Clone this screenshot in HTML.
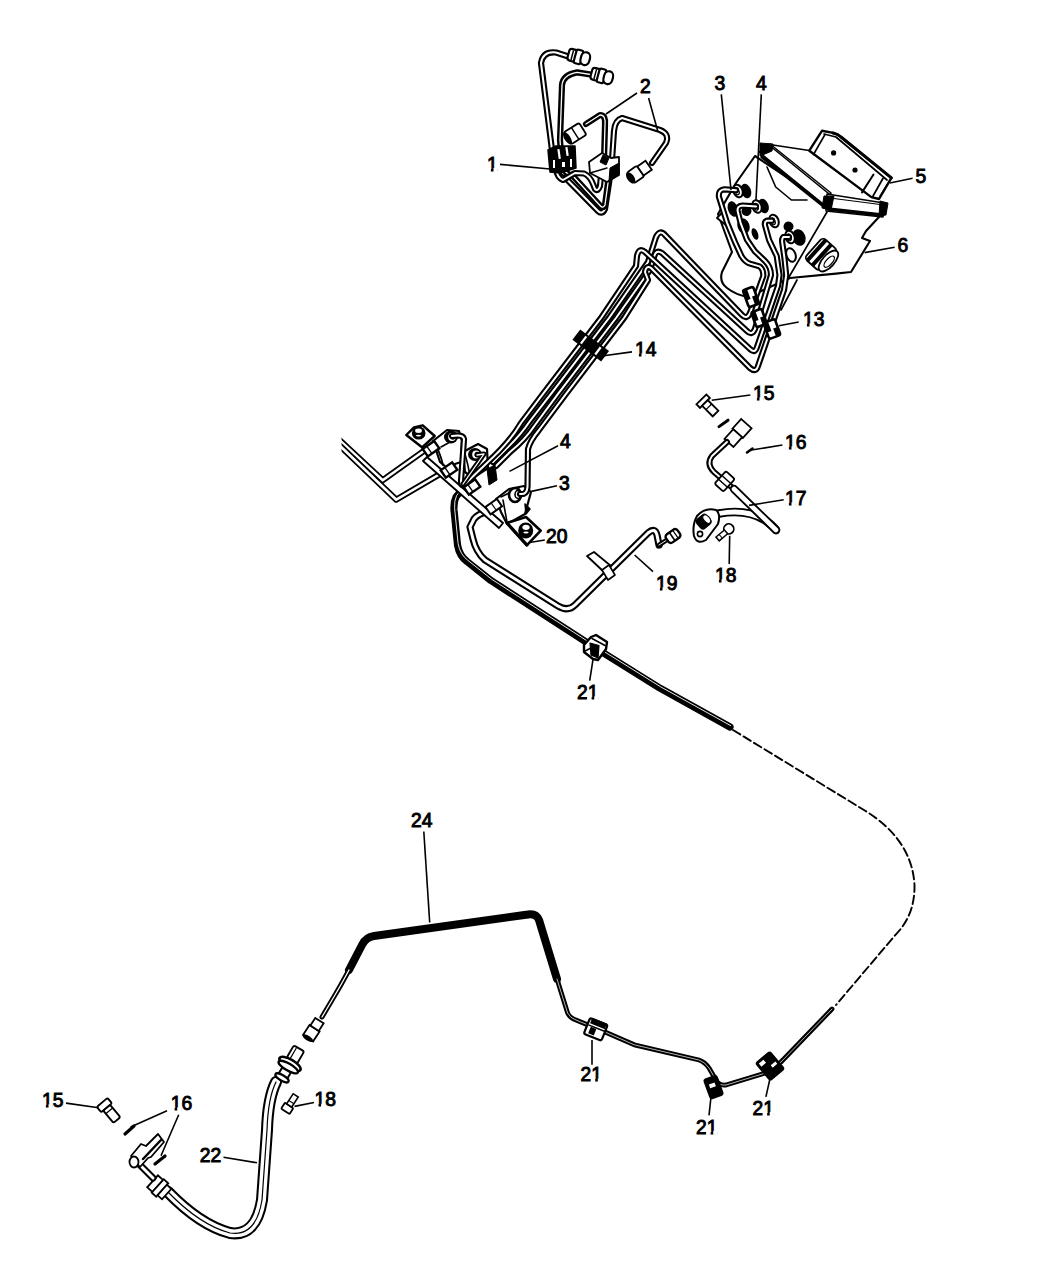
<!DOCTYPE html>
<html><head><meta charset="utf-8"><style>
html,body{margin:0;padding:0;background:#fff;}
svg{display:block;}
text{font-family:"Liberation Sans",sans-serif;font-size:19.3px;fill:#000;stroke:#000;stroke-width:0.95px;}
</style></head><body>
<svg width="1050" height="1275" viewBox="0 0 1050 1275">
<rect width="1050" height="1275" fill="#fff"/>
<path d="M468,488.5 Q459,492 456,497 Q453.5,502 454,510 L457.5,545 Q459.5,556 467,561.5 L491,580.6 L591.5,645.5 L660,688.2 L730,727" fill="none" stroke="#000" stroke-width="7.2" stroke-linecap="round" stroke-linejoin="round" />
<path d="M468,488.5 Q459,492 456,497 Q453.5,502 454,510 L457.5,545 Q459.5,556 467,561.5 L491,580.6 L591.5,645.5 L660,688.2 L730,727" fill="none" stroke="#fff" stroke-width="0.9" stroke-linecap="round" stroke-linejoin="round" transform="translate(0.6,-1.4)"/>
<path d="M733,730 L865.6,811 Q912,840 914.5,885 Q915,915 895.7,934.6 L836,1005" fill="none" stroke="#000" stroke-width="1.9" stroke-linecap="round" stroke-linejoin="round" stroke-dasharray="8.5 3.8" stroke-linecap="butt"/>
<path d="M349,970 L362,945 Q366,937 374,936 L528,914.5 Q536,913 539,920 L557,979" fill="none" stroke="#000" stroke-width="8" stroke-linecap="round" stroke-linejoin="round" />
<path d="M349,970 Q341,985 335,995 L322,1017" fill="none" stroke="#000" stroke-width="5" stroke-linecap="round" stroke-linejoin="round"/>
<path d="M349,970 Q341,985 335,995 L322,1017" fill="none" stroke="#fff" stroke-width="1.30" stroke-linecap="round" stroke-linejoin="round"/>
<path d="M557,979 L567.6,1013 Q570,1018 576,1020 L605,1032 L634.3,1044.8 L699,1060 Q705,1062 709,1068 L716,1080 Q719,1086 726,1085 L763,1073.8 L781,1062 L832,1009" fill="none" stroke="#000" stroke-width="4.8" stroke-linecap="round" stroke-linejoin="round"/>
<path d="M557,979 L567.6,1013 Q570,1018 576,1020 L605,1032 L634.3,1044.8 L699,1060 Q705,1062 709,1068 L716,1080 Q719,1086 726,1085 L763,1073.8 L781,1062 L832,1009" fill="none" stroke="#fff" stroke-width="0.70" stroke-linecap="round" stroke-linejoin="round"/>
<path d="M168,1192 Q200,1225 230,1233 Q256,1237 262,1200 L267,1130 Q268,1098 276,1082" fill="none" stroke="#000" stroke-width="12" stroke-linecap="round" stroke-linejoin="round"/>
<path d="M168,1192 Q200,1225 230,1233 Q256,1237 262,1200 L267,1130 Q268,1098 276,1082" fill="none" stroke="#fff" stroke-width="7.90" stroke-linecap="round" stroke-linejoin="round"/>
<path d="M168,1192 Q200,1225 230,1233 Q256,1237 262,1200 L267,1130 Q268,1098 276,1082" fill="none" stroke="#000" stroke-width="1.2" stroke-linecap="round" stroke-linejoin="round" />
<path d="M486,512 Q478,514 474,519 L470,527 L473,539 Q476,552 485,560 L558,606 Q568,612 575,605 L648,533 Q655,527 657,535 L659,545" fill="none" stroke="#000" stroke-width="7.2" stroke-linecap="round" stroke-linejoin="round"/>
<path d="M486,512 Q478,514 474,519 L470,527 L473,539 Q476,552 485,560 L558,606 Q568,612 575,605 L648,533 Q655,527 657,535 L659,545" fill="none" stroke="#fff" stroke-width="3.00" stroke-linecap="round" stroke-linejoin="round"/>
<path d="M659,545 L670,538" fill="none" stroke="#000" stroke-width="4.6" stroke-linecap="round" stroke-linejoin="round"/>
<path d="M659,545 L670,538" fill="none" stroke="#fff" stroke-width="0.90" stroke-linecap="round" stroke-linejoin="round"/>
<path d="M337,437.8 L382.7,480.3 L428,448" fill="none" stroke="#000" stroke-width="6.2" stroke-linecap="butt" stroke-linejoin="round"/>
<path d="M337,437.8 L382.7,480.3 L428,448" fill="none" stroke="#fff" stroke-width="2.60" stroke-linecap="butt" stroke-linejoin="round"/>
<path d="M337,443 L396.3,499.7 L446,470.5" fill="none" stroke="#000" stroke-width="6.2" stroke-linecap="butt" stroke-linejoin="round"/>
<path d="M337,443 L396.3,499.7 L446,470.5" fill="none" stroke="#fff" stroke-width="2.60" stroke-linecap="butt" stroke-linejoin="round"/>
<rect x="330" y="428" width="11.5" height="28" fill="#fff"/>
<path d="M423,461 L427,457 L503,523 L499,528 Z" fill="#fff" stroke="#000" stroke-width="1.9" stroke-linejoin="round"/>
<path d="M406.3,435 L414,427.3 L422.7,425.3 L434.7,436 L422,447.3 Z" fill="#fff" stroke="#000" stroke-width="2.4" stroke-linejoin="round"/>
<ellipse cx="418.7" cy="433" rx="6.8" ry="6.6" fill="#000"/><ellipse cx="418.5" cy="430.8" rx="3.4" ry="2.2" fill="#fff"/><ellipse cx="418.5" cy="435.6" rx="2.6" ry="0.9" fill="#fff"/>
<path d="M433,441 L447,430 L459,431 L462,441 L461,462 L446,467 L440,462 Z" fill="#fff" stroke="#000" stroke-width="2.2" stroke-linejoin="round"/>
<path d="M434,442 Q440,452 443,465" fill="none" stroke="#000" stroke-width="1.8" stroke-linecap="round" stroke-linejoin="round" />
<path d="M441,447 L459,437" fill="none" stroke="#000" stroke-width="1.6" stroke-linecap="round" stroke-linejoin="round" />
<ellipse cx="451" cy="437" rx="7" ry="6.5" fill="#000"/><ellipse cx="452" cy="437" rx="3.8" ry="4" fill="#fff"/><ellipse cx="453" cy="437" rx="1.8" ry="2.2" fill="none" stroke="#000" stroke-width="1.2"/>
<g transform="rotate(-35 431 448.7)"><rect x="424" y="444.2" width="14" height="9" fill="#fff" stroke="#000" stroke-width="2.4"/><line x1="429" y1="444.2" x2="429" y2="453.2" stroke="#000" stroke-width="1.4"/></g>
<g transform="rotate(-35 449 470)"><rect x="442" y="465.5" width="14" height="9" fill="#fff" stroke="#000" stroke-width="2.4"/><line x1="447" y1="465.5" x2="447" y2="474.5" stroke="#000" stroke-width="1.4"/></g>
<path d="M463,452 L478,444 L487,449 L488,468 L473,478 L465,472 Z" fill="#fff" stroke="#000" stroke-width="2.2" stroke-linejoin="round"/>
<path d="M465,454 Q468,464 470,476" fill="none" stroke="#000" stroke-width="1.6" stroke-linecap="round" stroke-linejoin="round" />
<ellipse cx="475" cy="454.5" rx="7" ry="6.5" fill="#000"/><ellipse cx="476" cy="454.5" rx="3.8" ry="4" fill="#fff"/><ellipse cx="477" cy="454.5" rx="1.8" ry="2.2" fill="none" stroke="#000" stroke-width="1.2"/>
<g transform="rotate(-35 472 487)"><rect x="465" y="482.5" width="14" height="9" fill="#fff" stroke="#000" stroke-width="2.4"/><line x1="470" y1="482.5" x2="470" y2="491.5" stroke="#000" stroke-width="1.4"/></g>
<path d="M496,499 L509,489 L524,486 L531,492 L525,514 L507,524 L501,512 Z" fill="#fff" stroke="#000" stroke-width="2.2" stroke-linejoin="round"/>
<path d="M503,500 L507,522" fill="none" stroke="#000" stroke-width="1.6" stroke-linecap="round" stroke-linejoin="round" />
<path d="M501,497 L519,488" fill="none" stroke="#000" stroke-width="1.6" stroke-linecap="round" stroke-linejoin="round" />
<path d="M525,504 L530,509 L526,514 Z" fill="#000" stroke="#000" stroke-width="1.5" stroke-linejoin="round"/>
<ellipse cx="515" cy="495" rx="6" ry="7" fill="#fff" stroke="#000" stroke-width="2.6"/><ellipse cx="518" cy="494.5" rx="3" ry="4" fill="none" stroke="#000" stroke-width="1.6"/>
<g transform="rotate(-35 494 507)"><rect x="487" y="502" width="14" height="9" fill="#fff" stroke="#000" stroke-width="2"/><line x1="494" y1="502" x2="494" y2="511" stroke="#000" stroke-width="1.2"/></g>
<path d="M506.7,523 L526,517 L540.7,530.7 L526.7,545.3 Z" fill="#fff" stroke="#000" stroke-width="2.6" stroke-linejoin="round"/>
<ellipse cx="525.7" cy="530.5" rx="7.5" ry="8" fill="#000"/><ellipse cx="526" cy="527.3" rx="3.6" ry="2.6" fill="#fff"/><ellipse cx="526" cy="532.5" rx="2.6" ry="1.1" fill="#fff"/>
<path d="M508,524 L527,545" fill="none" stroke="#000" stroke-width="3" stroke-linecap="round" stroke-linejoin="round" />
<path d="M755,156 L736,183 L718,214 L721,222 L732,252 L722,272 Q719,282 727,288 Q736,295 748,297 L790,278 L836,273.6 L851,272 L870,241 L862,238 L866,231 L879,217 L885,204 L829,205 Z" fill="#fff" stroke="#000" stroke-width="2.1" stroke-linejoin="round"/>
<path d="M717,218 L722.5,212 L727,226 Z" fill="#fff" stroke="#000" stroke-width="1.9" stroke-linejoin="round"/>
<path d="M827,212 L789,277" fill="none" stroke="#000" stroke-width="1.7" stroke-linecap="round" stroke-linejoin="round" />
<path d="M797,280 L781,310" fill="none" stroke="#000" stroke-width="1.7" stroke-linecap="round" stroke-linejoin="round" />
<path d="M767,167 L775.7,187 L791.4,200 L807,200" fill="none" stroke="#000" stroke-width="1.6" stroke-linecap="round" stroke-linejoin="round" />
<path d="M759,152 L770,144 L831,193 L827,207 Z" fill="#fff" stroke="#000" stroke-width="1.5" stroke-linejoin="round"/>
<path d="M762,157 L826,208" fill="none" stroke="#000" stroke-width="3.2" stroke-linecap="round" stroke-linejoin="round" />
<path d="M772,147.5 L831,195.5" fill="none" stroke="#000" stroke-width="1.6" stroke-linecap="round" stroke-linejoin="round" />
<path d="M760,143 L773,144 L772,151 L760,156 Z" fill="#000" stroke="#000" stroke-width="1" stroke-linejoin="round"/>
<path d="M827,194 L884,203 L883,217 L826,211 Z" fill="#fff" stroke="#000" stroke-width="1.5" stroke-linejoin="round"/>
<path d="M828,209 L882,215" fill="none" stroke="#000" stroke-width="3.4" stroke-linecap="round" stroke-linejoin="round" />
<path d="M830,198 L884,205" fill="none" stroke="#000" stroke-width="1.2" stroke-linecap="round" stroke-linejoin="round" />
<path d="M824,196 L834,196 L831,210 L822,208 Z" fill="#000" stroke="#000" stroke-width="1" stroke-linejoin="round"/>
<path d="M880,201 L888,203 L886,215 L879,216 Z" fill="#000" stroke="#000" stroke-width="1" stroke-linejoin="round"/>
<path d="M772.9,145 L809.3,150.5" fill="none" stroke="#000" stroke-width="1.7" stroke-linecap="round" stroke-linejoin="round" />
<path d="M809.3,150.7 L822.1,130.7 L833,132.9 Q838,134 841,137 L891.4,177.9 L879,199 L871.4,197.1 Z" fill="#fff" stroke="#000" stroke-width="2.4" stroke-linejoin="round"/>
<path d="M833,133 Q838,134 841,137 L891.4,177.9" fill="none" stroke="#000" stroke-width="3" stroke-linecap="round" stroke-linejoin="round" />
<path d="M824,134 L836,137 L887,180" fill="none" stroke="#000" stroke-width="1.7" stroke-linecap="round" stroke-linejoin="round" />
<path d="M873.5,174.5 L862,192.4" fill="none" stroke="#000" stroke-width="2" stroke-linecap="round" stroke-linejoin="round" />
<path d="M882.9,178.5 L872.4,197.1" fill="none" stroke="#000" stroke-width="1.8" stroke-linecap="round" stroke-linejoin="round" />
<path d="M825,134.5 L813.5,154.5" fill="none" stroke="#000" stroke-width="1.6" stroke-linecap="round" stroke-linejoin="round" />
<path d="M891.4,177.9 L880,196" fill="none" stroke="#000" stroke-width="1.2" stroke-linecap="round" stroke-linejoin="round" />
<circle cx="833.6" cy="152.9" r="2.6" fill="#000"/><circle cx="855" cy="170" r="2.6" fill="#000"/>
<g transform="rotate(42 824 257)"><rect x="810" y="243" width="20" height="28" rx="4" fill="#fff" stroke="#000" stroke-width="1.8"/><rect x="812" y="243" width="4" height="28" rx="1" fill="#000"/><rect x="819" y="243" width="4" height="28" rx="1" fill="#000"/><ellipse cx="830" cy="257" rx="6" ry="13" fill="#fff" stroke="#000" stroke-width="1.8"/><ellipse cx="831" cy="257" rx="3" ry="7" fill="none" stroke="#000" stroke-width="1.3"/></g>
<ellipse cx="746" cy="191" rx="5" ry="7.5" fill="#000" transform="rotate(-20 746 191)"/>
<ellipse cx="763.5" cy="206" rx="5" ry="7.5" fill="#000" transform="rotate(-20 763.5 206)"/>
<ellipse cx="788.5" cy="226.5" rx="5" ry="5" fill="#000" transform="rotate(-20 788.5 226.5)"/>
<ellipse cx="799" cy="237.5" rx="6.5" ry="8.5" fill="#000" transform="rotate(-20 799 237.5)"/>
<ellipse cx="733" cy="209" rx="5" ry="8" fill="#000" transform="rotate(-20 733 209)"/>
<ellipse cx="746.5" cy="211" rx="5" ry="5" fill="#000" transform="rotate(-20 746.5 211)"/>
<ellipse cx="743.5" cy="226" rx="6" ry="8" fill="#000" transform="rotate(-20 743.5 226)"/>
<ellipse cx="755" cy="234" rx="3" ry="6" fill="#000" transform="rotate(-20 755 234)"/>
<ellipse cx="791" cy="255" rx="4.5" ry="7" fill="#fff" stroke="#000" stroke-width="2" transform="rotate(-20 791 255)"/>
<ellipse cx="738" cy="191" rx="4.5" ry="6.5" fill="#fff" stroke="#000" stroke-width="2" transform="rotate(-20 738 191)"/><ellipse cx="737" cy="191" rx="2" ry="3.5" fill="none" stroke="#000" stroke-width="1.2" transform="rotate(-20 738 191)"/>
<ellipse cx="757" cy="206.5" rx="4.5" ry="6.5" fill="#fff" stroke="#000" stroke-width="2" transform="rotate(-20 757 206.5)"/><ellipse cx="756" cy="206.5" rx="2" ry="3.5" fill="none" stroke="#000" stroke-width="1.2" transform="rotate(-20 757 206.5)"/>
<ellipse cx="774" cy="221" rx="4.5" ry="6.5" fill="#fff" stroke="#000" stroke-width="2" transform="rotate(-20 774 221)"/><ellipse cx="773" cy="221" rx="2" ry="3.5" fill="none" stroke="#000" stroke-width="1.2" transform="rotate(-20 774 221)"/>
<ellipse cx="790" cy="237" rx="4.5" ry="6.5" fill="#fff" stroke="#000" stroke-width="2" transform="rotate(-20 790 237)"/><ellipse cx="789" cy="237" rx="2" ry="3.5" fill="none" stroke="#000" stroke-width="1.2" transform="rotate(-20 790 237)"/>
<path d="M736,190.2 L724.3,189.3 Q718,190 719,197 L727,222.6 L734.8,241.7 L741.4,256 Q745,262 750,263.6 L759.5,266.4 Q763.5,269 763.3,276 L750,313 Q747,320 742,315 L665,235 Q660,229 656,237 L648,262 L609,318 L551.4,393.3 L530,421 Q520,436 505,450 L493,462" fill="none" stroke="#000" stroke-width="6.2" stroke-linecap="round" stroke-linejoin="round"/>
<path d="M736,190.2 L724.3,189.3 Q718,190 719,197 L727,222.6 L734.8,241.7 L741.4,256 Q745,262 750,263.6 L759.5,266.4 Q763.5,269 763.3,276 L750,313 Q747,320 742,315 L665,235 Q660,229 656,237 L648,262 L609,318 L551.4,393.3 L530,421 Q520,436 505,450 L493,462" fill="none" stroke="#fff" stroke-width="2.00" stroke-linecap="round" stroke-linejoin="round"/>
<path d="M756,206.4 L742.4,205.5 Q737,206 737.6,211 L740.5,222.6 L747,239.8 L754.8,251.2 L765,261 Q771,267 771,275 L755,329 Q752,336 747,331 L662,253 Q656,249 654,257 L650,270 L616,318 L558.4,393.3 L535,425 Q525,440 510,452 L496,466" fill="none" stroke="#000" stroke-width="6.2" stroke-linecap="round" stroke-linejoin="round"/>
<path d="M756,206.4 L742.4,205.5 Q737,206 737.6,211 L740.5,222.6 L747,239.8 L754.8,251.2 L765,261 Q771,267 771,275 L755,329 Q752,336 747,331 L662,253 Q656,249 654,257 L650,270 L616,318 L558.4,393.3 L535,425 Q525,440 510,452 L496,466" fill="none" stroke="#fff" stroke-width="2.00" stroke-linecap="round" stroke-linejoin="round"/>
<path d="M772,220.7 L767,220.7 Q764,222 765.2,226 L769,239.8 L776.7,256 L779.5,275 L778,286 L757,347 Q755,354 750,349 L645,252 Q639,247 637,256 L636,266 L601,318 L543.4,393.3 L521,423 Q510,442 488,462 L466,483 Q461,488 461,481 L464,439 Q463,434 452,436" fill="none" stroke="#000" stroke-width="6.2" stroke-linecap="round" stroke-linejoin="round"/>
<path d="M772,220.7 L767,220.7 Q764,222 765.2,226 L769,239.8 L776.7,256 L779.5,275 L778,286 L757,347 Q755,354 750,349 L645,252 Q639,247 637,256 L636,266 L601,318 L543.4,393.3 L521,423 Q510,442 488,462 L466,483 Q461,488 461,481 L464,439 Q463,434 452,436" fill="none" stroke="#fff" stroke-width="2.00" stroke-linecap="round" stroke-linejoin="round"/>
<path d="M789,237 L783.3,237 Q781.5,239 782.4,243.6 L784.3,257 L786.2,275 L784,290 L758,366 Q756,373 750,368 L651,268 Q646,265 645,272 L648,280 L624,318 L566.4,393.3 L539,430 Q530,441 528,449 L527.5,487 Q527,495 520,494" fill="none" stroke="#000" stroke-width="6.2" stroke-linecap="round" stroke-linejoin="round"/>
<path d="M789,237 L783.3,237 Q781.5,239 782.4,243.6 L784.3,257 L786.2,275 L784,290 L758,366 Q756,373 750,368 L651,268 Q646,265 645,272 L648,280 L624,318 L566.4,393.3 L539,430 Q530,441 528,449 L527.5,487 Q527,495 520,494" fill="none" stroke="#fff" stroke-width="2.00" stroke-linecap="round" stroke-linejoin="round"/>
<path d="M477,455 L484,454 L463,484" fill="none" stroke="#000" stroke-width="5" stroke-linecap="round" stroke-linejoin="round"/>
<path d="M477,455 L484,454 L463,484" fill="none" stroke="#fff" stroke-width="1.30" stroke-linecap="round" stroke-linejoin="round"/>
<path d="M487,469 L495,465 L497,480 L489,485 Z" fill="#000" stroke="#000" stroke-width="1" stroke-linejoin="round"/>
<rect x="745.5" y="288.0" width="11" height="18" rx="2" fill="#fff" stroke="#000" stroke-width="2.6" transform="rotate(-20 751 297)"/>
<rect x="745.5" y="288.0" width="4.4" height="10.799999999999999" fill="#000" transform="rotate(-20 751 297)"/>
<rect x="752.1" y="297" width="4.4" height="9.0" fill="#000" transform="rotate(-20 751 297)"/>
<rect x="753.5" y="310.0" width="11" height="16" rx="2" fill="#fff" stroke="#000" stroke-width="2.6" transform="rotate(-20 759 318)"/>
<rect x="753.5" y="310.0" width="4.4" height="9.6" fill="#000" transform="rotate(-20 759 318)"/>
<rect x="760.1" y="318" width="4.4" height="8.0" fill="#000" transform="rotate(-20 759 318)"/>
<rect x="766.0" y="320.5" width="12" height="17" rx="2" fill="#fff" stroke="#000" stroke-width="2.6" transform="rotate(-20 772 329)"/>
<rect x="766.0" y="320.5" width="4.800000000000001" height="10.2" fill="#000" transform="rotate(-20 772 329)"/>
<rect x="773.2" y="329" width="4.800000000000001" height="8.5" fill="#000" transform="rotate(-20 772 329)"/>
<g transform="rotate(37 591 345)"><rect x="573" y="339" width="36" height="13" fill="#000"/><rect x="581" y="341" width="2.2" height="9" fill="#fff"/><rect x="599" y="341" width="2.2" height="9" fill="#fff"/></g>
<path d="M570,57 L556,52.5 Q543,51 541,63 L552,150 L555,168 Q558,177 567,179.5 L598,211 Q602,215 605,209 L609,183 L612,160 L614,131 Q615,120 622,118 L660,130 Q670,134 666,143 L652,163" fill="none" stroke="#000" stroke-width="6.2" stroke-linecap="round" stroke-linejoin="round"/>
<path d="M570,57 L556,52.5 Q543,51 541,63 L552,150 L555,168 Q558,177 567,179.5 L598,211 Q602,215 605,209 L609,183 L612,160 L614,131 Q615,120 622,118 L660,130 Q670,134 666,143 L652,163" fill="none" stroke="#fff" stroke-width="2.00" stroke-linecap="round" stroke-linejoin="round"/>
<path d="M594,75 L577,72.4 Q563,75 562,85 L560,140 L562,166 Q565,174 573,176 L600,205.5 Q603,209 605,205 L608,183 L604,160 L605,125 Q606,115 600,115 L586,124" fill="none" stroke="#000" stroke-width="6.2" stroke-linecap="round" stroke-linejoin="round"/>
<path d="M594,75 L577,72.4 Q563,75 562,85 L560,140 L562,166 Q565,174 573,176 L600,205.5 Q603,209 605,205 L608,183 L604,160 L605,125 Q606,115 600,115 L586,124" fill="none" stroke="#fff" stroke-width="1.30" stroke-linecap="round" stroke-linejoin="round"/>
<path d="M556,168 Q557,178 563,180 L575,173 L584,173.5 Q590,176 593,184 L595,189 Q598,192 600,186 L602,165" fill="none" stroke="#000" stroke-width="6.2" stroke-linecap="round" stroke-linejoin="round"/>
<path d="M556,168 Q557,178 563,180 L575,173 L584,173.5 Q590,176 593,184 L595,189 Q598,192 600,186 L602,165" fill="none" stroke="#fff" stroke-width="2.00" stroke-linecap="round" stroke-linejoin="round"/>
<g transform="rotate(15 579 57)"><rect x="568" y="51" width="10" height="12" rx="3" fill="#fff" stroke="#000" stroke-width="2.2"/><rect x="575" y="50" width="7" height="14" rx="2" fill="#fff" stroke="#000" stroke-width="2.2"/><rect x="581" y="50.5" width="9" height="13" rx="5" fill="#fff" stroke="#000" stroke-width="2.2"/><line x1="572" y1="52" x2="572" y2="62" stroke="#000" stroke-width="1.5"/></g>
<g transform="rotate(15 602 76)"><rect x="591" y="70" width="10" height="12" rx="3" fill="#fff" stroke="#000" stroke-width="2.2"/><rect x="598" y="69" width="7" height="14" rx="2" fill="#fff" stroke="#000" stroke-width="2.2"/><rect x="604" y="69.5" width="9" height="13" rx="5" fill="#fff" stroke="#000" stroke-width="2.2"/><line x1="595" y1="71" x2="595" y2="81" stroke="#000" stroke-width="1.5"/></g>
<g transform="rotate(-32 576 133)"><rect x="566" y="126" width="18" height="14" rx="2" fill="#fff" stroke="#000" stroke-width="1.8"/><line x1="575" y1="126" x2="575" y2="140" stroke="#000" stroke-width="1.5"/><ellipse cx="566" cy="133" rx="3" ry="7" fill="#000"/></g>
<g transform="rotate(-35 641 170)"><rect x="628" y="164" width="12" height="13" rx="2" fill="#fff" stroke="#000" stroke-width="1.8"/><rect x="640" y="165" width="10" height="11" fill="#fff" stroke="#000" stroke-width="1.8"/><ellipse cx="628" cy="170.5" rx="3.5" ry="6.5" fill="#000"/></g>
<path d="M548,150 L556,146 L575,146 L576,168 L560,173 L550,172 Z" fill="#000" stroke="#000" stroke-width="1.5" stroke-linejoin="round"/>
<rect x="558" y="149" width="2.2" height="10" fill="#fff" transform="rotate(-8 559 154)"/><rect x="566" y="147" width="2.2" height="9" fill="#fff" transform="rotate(-8 567 152)"/><rect x="553" y="160" width="2" height="8" fill="#fff"/><rect x="562" y="162" width="3" height="5" fill="#fff"/><rect x="570" y="159" width="2" height="8" fill="#fff"/>
<path d="M589,162 L602,153 L611,158 L619,157 L619,175 L607,182 L590,173 Z" fill="#fff" stroke="#000" stroke-width="1.8" stroke-linejoin="round"/>
<path d="M603,155 L609,158 L606,165 L600,162 Z" fill="#000" stroke="#000" stroke-width="1" stroke-linejoin="round"/>
<path d="M610,168 L619,163 L619,175 L609,181 Z" fill="#000" stroke="#000" stroke-width="1" stroke-linejoin="round"/>
<path d="M590,173 L607,168" fill="none" stroke="#000" stroke-width="1.4" stroke-linecap="round" stroke-linejoin="round" />
<g transform="rotate(-45 706 404)"><rect x="699" y="397.5" width="14" height="5" fill="#fff" stroke="#000" stroke-width="1.8"/><rect x="702" y="402.5" width="8" height="15" fill="#fff" stroke="#000" stroke-width="1.8"/><line x1="702" y1="408" x2="710" y2="408" stroke="#000" stroke-width="1.3"/></g>
<path d="M719,426.6 L728,420.2" fill="none" stroke="#000" stroke-width="3" stroke-linecap="round" stroke-linejoin="round" />
<path d="M747,452.5 L752.5,448.5" fill="none" stroke="#000" stroke-width="2.6" stroke-linecap="round" stroke-linejoin="round" />
<g transform="rotate(42 737 434)"><rect x="730" y="420" width="14" height="13" fill="#fff" stroke="#000" stroke-width="1.8"/><rect x="731" y="433" width="12" height="13" fill="#fff" stroke="#000" stroke-width="1.8"/></g>
<path d="M727,442 L712,456 Q706,464 714,472 L735,490" fill="none" stroke="#000" stroke-width="6" stroke-linecap="round" stroke-linejoin="round"/>
<path d="M727,442 L712,456 Q706,464 714,472 L735,490" fill="none" stroke="#fff" stroke-width="1.90" stroke-linecap="round" stroke-linejoin="round"/>
<g transform="rotate(42 725 481)"><rect x="719" y="473" width="12" height="17" rx="2" fill="#fff" stroke="#000" stroke-width="1.8"/><line x1="719" y1="479" x2="731" y2="479" stroke="#000" stroke-width="1.5"/><line x1="719" y1="484" x2="731" y2="484" stroke="#000" stroke-width="1.5"/></g>
<path d="M719,513.5 Q746,508.5 765,520 Q773,526 776,530" fill="none" stroke="#000" stroke-width="8.6" stroke-linecap="round" stroke-linejoin="round"/>
<path d="M719,513.5 Q746,508.5 765,520 Q773,526 776,530" fill="none" stroke="#fff" stroke-width="4.80" stroke-linecap="round" stroke-linejoin="round"/>
<path d="M734,489 L776,530" fill="none" stroke="#000" stroke-width="8.4" stroke-linecap="round" stroke-linejoin="round"/>
<path d="M734,489 L776,530" fill="none" stroke="#fff" stroke-width="4.60" stroke-linecap="round" stroke-linejoin="round"/>
<path d="M694,536 Q692,525 697,516 Q705,507 716,510 Q721,514 718,524 L706,540 Q697,545 694,536 Z" fill="#fff" stroke="#000" stroke-width="2" stroke-linejoin="round"/>
<g transform="rotate(-40 704 522)"><rect x="697" y="515" width="14" height="13" rx="4" fill="#000"/><ellipse cx="708" cy="521.5" rx="3" ry="5" fill="#fff" stroke="#000" stroke-width="1.2"/></g>
<circle cx="700" cy="534" r="2.6" fill="#fff" stroke="#000" stroke-width="1.6"/>
<g transform="rotate(-40 727 533)"><circle cx="731" cy="531" r="5" fill="#fff" stroke="#000" stroke-width="1.8"/><rect x="716" y="529" width="11" height="5" fill="#fff" stroke="#000" stroke-width="1.5"/><line x1="720" y1="529" x2="720" y2="534" stroke="#000" stroke-width="1"/></g>
<path d="M587,556 L594,552 L611,566 L604,572 Z" fill="#fff" stroke="#000" stroke-width="1.8" stroke-linejoin="round"/>
<path d="M602,570 L609,565 L615,575 L608,580 Z" fill="#fff" stroke="#000" stroke-width="1.6" stroke-linejoin="round"/>
<g transform="rotate(-35 673 536)"><rect x="666" y="531" width="14" height="10" rx="3" fill="#fff" stroke="#000" stroke-width="2.4"/><line x1="672" y1="531" x2="672" y2="541" stroke="#000" stroke-width="1.6"/><line x1="676" y1="531" x2="676" y2="541" stroke="#000" stroke-width="1.2"/></g>
<path d="M584,645 L591,637 L596,635 L607,642 L606,649 L598,660 L593,659 L584,652 Z" fill="#fff" stroke="#000" stroke-width="2.4" stroke-linejoin="round"/>
<path d="M590,643 L599,645.5 L598,658 L591,655 Z" fill="#000" stroke="#000" stroke-width="1.2" stroke-linejoin="round"/>
<path d="M592,638.5 L605,645.5" fill="none" stroke="#000" stroke-width="1.6" stroke-linecap="round" stroke-linejoin="round" />
<path d="M585,651 L591,648" fill="none" stroke="#000" stroke-width="1.4" stroke-linecap="round" stroke-linejoin="round" />
<g transform="rotate(-57 314 1029)"><rect x="303" y="1023" width="12" height="12" fill="#fff" stroke="#000" stroke-width="1.8"/><rect x="315" y="1024" width="9" height="10" fill="#fff" stroke="#000" stroke-width="1.8"/><ellipse cx="303" cy="1029" rx="2.5" ry="6" fill="#000"/></g>
<g transform="rotate(30 290 1064)"><rect x="284" y="1046" width="12" height="14" rx="2" fill="#fff" stroke="#000" stroke-width="1.9"/><line x1="287.5" y1="1047" x2="287.5" y2="1059" stroke="#000" stroke-width="1.2"/><ellipse cx="290" cy="1064" rx="12" ry="4.5" fill="#fff" stroke="#000" stroke-width="2.6"/><ellipse cx="290" cy="1067.5" rx="11" ry="3.5" fill="#fff" stroke="#000" stroke-width="2.4"/><rect x="285" y="1071" width="10" height="8" fill="#fff" stroke="#000" stroke-width="2"/><ellipse cx="290" cy="1080" rx="7.5" ry="2.8" fill="#fff" stroke="#000" stroke-width="2.2"/></g>
<g transform="rotate(-147 290 1106)"><rect x="286" y="1099" width="10" height="7" rx="1" fill="#fff" stroke="#000" stroke-width="1.8"/><rect x="288" y="1106" width="6" height="12" fill="#fff" stroke="#000" stroke-width="1.6"/><line x1="288" y1="1110" x2="294" y2="1110" stroke="#000" stroke-width="1"/></g>
<g transform="rotate(-40 106 1107)"><rect x="99" y="1101" width="14" height="7" rx="1.5" fill="#fff" stroke="#000" stroke-width="1.9"/><rect x="101.5" y="1108" width="9" height="16" rx="2" fill="#fff" stroke="#000" stroke-width="1.9"/><line x1="101.5" y1="1112" x2="110.5" y2="1112" stroke="#000" stroke-width="1.3"/></g>
<path d="M125,1134 L134,1126" fill="none" stroke="#000" stroke-width="3.2" stroke-linecap="round" stroke-linejoin="round" />
<path d="M155,1164 L165,1156" fill="none" stroke="#000" stroke-width="3.2" stroke-linecap="round" stroke-linejoin="round" />
<g transform="rotate(-48 160 1188)"><rect x="152" y="1178" width="16" height="7" fill="#fff" stroke="#000" stroke-width="1.8"/><rect x="151" y="1185" width="18" height="6" fill="#fff" stroke="#000" stroke-width="1.8"/><rect x="153" y="1191" width="14" height="6" fill="#fff" stroke="#000" stroke-width="1.8"/></g>
<path d="M153,1178 L138,1163" fill="none" stroke="#000" stroke-width="7" stroke-linecap="round" stroke-linejoin="round"/>
<path d="M153,1178 L138,1163" fill="none" stroke="#fff" stroke-width="2.90" stroke-linecap="round" stroke-linejoin="round"/>
<path d="M131,1156 L141,1144 L146,1146 L158,1134 L164,1142 L151,1157 L148,1158 L140,1167 Z" fill="#fff" stroke="#000" stroke-width="1.8" stroke-linejoin="round"/>
<ellipse cx="134" cy="1162" rx="4.5" ry="5.5" fill="#fff" stroke="#000" stroke-width="1.8"/>
<path d="M143,1159 L161,1140" fill="none" stroke="#000" stroke-width="2.5" stroke-linecap="round" stroke-linejoin="round" />
<g transform="rotate(22 596 1030)"><rect x="586" y="1021" width="19" height="17" rx="2" fill="#fff" stroke="#000" stroke-width="2.2"/><rect x="588" y="1020" width="16" height="6" fill="#000"/><rect x="590" y="1029" width="6" height="7" fill="#000"/><line x1="587" y1="1028" x2="605" y2="1028" stroke="#000" stroke-width="1.4"/></g>
<g transform="rotate(-20 714 1087)"><rect x="706" y="1076" width="15" height="22" rx="3" fill="#000"/><rect x="710" y="1083" width="6" height="4" fill="#fff"/></g>
<g transform="rotate(-40 770 1066)"><rect x="760" y="1054" width="20" height="24" rx="3" fill="#000"/><rect x="763" y="1057" width="6" height="4" fill="#fff"/><rect x="771" y="1066" width="6" height="3" fill="#fff"/></g>
<path d="M500 164.4L550 169" fill="none" stroke="#000" stroke-width="1.6"/>
<path d="M637 93L606 114M648.6 98L658 132" fill="none" stroke="#000" stroke-width="1.6"/>
<path d="M721.3 94.4L731 190" fill="none" stroke="#000" stroke-width="1.6"/>
<path d="M761.3 94.4L756 200" fill="none" stroke="#000" stroke-width="1.6"/>
<path d="M912.6 178.2L889.9 183" fill="none" stroke="#000" stroke-width="1.6"/>
<path d="M894.6 247.3L864.6 252.6" fill="none" stroke="#000" stroke-width="1.6"/>
<path d="M798.7 322L779 325.8" fill="none" stroke="#000" stroke-width="1.6"/>
<path d="M632 351.9L603.7 355.7" fill="none" stroke="#000" stroke-width="1.6"/>
<path d="M750.3 395L711.7 400.2" fill="none" stroke="#000" stroke-width="1.6"/>
<path d="M782.4 445L750 450.3" fill="none" stroke="#000" stroke-width="1.6"/>
<path d="M783.7 499.7L749 505.4" fill="none" stroke="#000" stroke-width="1.6"/>
<path d="M729.2 564L729.7 535.7" fill="none" stroke="#000" stroke-width="1.6"/>
<path d="M653 571.7L634.6 555" fill="none" stroke="#000" stroke-width="1.6"/>
<path d="M558 445.7L509.5 471.4" fill="none" stroke="#000" stroke-width="1.6"/>
<path d="M557 485.7L531.4 491.4" fill="none" stroke="#000" stroke-width="1.6"/>
<path d="M544.8 540L529.5 542.5" fill="none" stroke="#000" stroke-width="1.6"/>
<path d="M589.7 680.6L593.1 658.9" fill="none" stroke="#000" stroke-width="1.6"/>
<path d="M423.8 831.5L429.7 922.5" fill="none" stroke="#000" stroke-width="1.6"/>
<path d="M592 1064.7L592 1040" fill="none" stroke="#000" stroke-width="1.6"/>
<path d="M709 1115.4L711 1096.9" fill="none" stroke="#000" stroke-width="1.6"/>
<path d="M765.9 1096.9L769.8 1079.5" fill="none" stroke="#000" stroke-width="1.6"/>
<path d="M66 1103.1L98.6 1107.7" fill="none" stroke="#000" stroke-width="1.6"/>
<path d="M167 1110.7L130.6 1126.9M178.7 1114.7L161 1155.8" fill="none" stroke="#000" stroke-width="1.6"/>
<path d="M223.5 1157.3L257 1162.8" fill="none" stroke="#000" stroke-width="1.6"/>
<path d="M314 1102.5L294.5 1106.4" fill="none" stroke="#000" stroke-width="1.6"/>
<text x="487" y="170.6">1</text>
<text x="640" y="93">2</text>
<text x="714.5" y="90">3</text>
<text x="756" y="90">4</text>
<text x="915.5" y="182.5">5</text>
<text x="897.5" y="252">6</text>
<text x="803" y="326">13</text>
<text x="635" y="356">14</text>
<text x="753" y="400">15</text>
<text x="785" y="449">16</text>
<text x="785" y="505">17</text>
<text x="715" y="582">18</text>
<text x="656" y="590">19</text>
<text x="560" y="447.6">4</text>
<text x="559" y="489.5">3</text>
<text x="546" y="543">20</text>
<text x="577" y="699">21</text>
<text x="411" y="826.7">24</text>
<text x="580.6" y="1081.3">21</text>
<text x="696" y="1133.5">21</text>
<text x="752.5" y="1114.7">21</text>
<text x="42" y="1107">15</text>
<text x="170.7" y="1110">16</text>
<text x="199.7" y="1162">22</text>
<text x="314.6" y="1106.4">18</text>
<rect x="486.50" y="168.00" width="4.40" height="4" fill="#fff"/>
<rect x="493.50" y="168.00" width="4.20" height="4" fill="#fff"/>
<rect x="802.50" y="323.40" width="4.40" height="4" fill="#fff"/>
<rect x="809.50" y="323.40" width="4.20" height="4" fill="#fff"/>
<rect x="634.50" y="353.40" width="4.40" height="4" fill="#fff"/>
<rect x="641.50" y="353.40" width="4.20" height="4" fill="#fff"/>
<rect x="752.50" y="397.40" width="4.40" height="4" fill="#fff"/>
<rect x="759.50" y="397.40" width="4.20" height="4" fill="#fff"/>
<rect x="784.50" y="446.40" width="4.40" height="4" fill="#fff"/>
<rect x="791.50" y="446.40" width="4.20" height="4" fill="#fff"/>
<rect x="784.50" y="502.40" width="4.40" height="4" fill="#fff"/>
<rect x="791.50" y="502.40" width="4.20" height="4" fill="#fff"/>
<rect x="714.50" y="579.40" width="4.40" height="4" fill="#fff"/>
<rect x="721.50" y="579.40" width="4.20" height="4" fill="#fff"/>
<rect x="655.50" y="587.40" width="4.40" height="4" fill="#fff"/>
<rect x="662.50" y="587.40" width="4.20" height="4" fill="#fff"/>
<rect x="587.23" y="696.40" width="4.40" height="4" fill="#fff"/>
<rect x="594.23" y="696.40" width="4.20" height="4" fill="#fff"/>
<rect x="590.83" y="1078.70" width="4.40" height="4" fill="#fff"/>
<rect x="597.83" y="1078.70" width="4.20" height="4" fill="#fff"/>
<rect x="706.23" y="1130.90" width="4.40" height="4" fill="#fff"/>
<rect x="713.23" y="1130.90" width="4.20" height="4" fill="#fff"/>
<rect x="762.73" y="1112.10" width="4.40" height="4" fill="#fff"/>
<rect x="769.73" y="1112.10" width="4.20" height="4" fill="#fff"/>
<rect x="41.50" y="1104.40" width="4.40" height="4" fill="#fff"/>
<rect x="48.50" y="1104.40" width="4.20" height="4" fill="#fff"/>
<rect x="170.20" y="1107.40" width="4.40" height="4" fill="#fff"/>
<rect x="177.20" y="1107.40" width="4.20" height="4" fill="#fff"/>
<rect x="314.10" y="1103.80" width="4.40" height="4" fill="#fff"/>
<rect x="321.10" y="1103.80" width="4.20" height="4" fill="#fff"/>
</svg>
</body></html>
